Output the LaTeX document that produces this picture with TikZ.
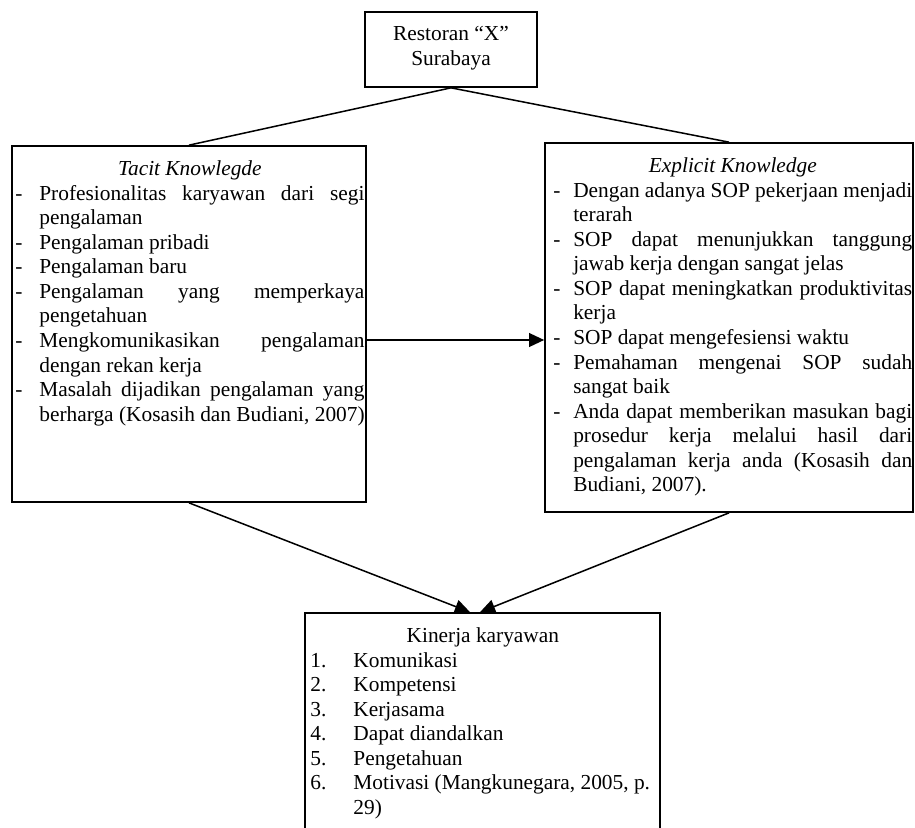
\documentclass[tikz,border=0pt]{standalone}
\usepackage{fontspec}
\setmainfont{Liberation Serif}
\usetikzlibrary{arrows.meta,fit,calc}
\newcommand{\dL}{\makebox[13.5pt][l]{-}}
\newcommand{\iL}{\hspace*{13.5pt}}
\newcommand{\jL}[1]{\makebox[182.6pt][s]{#1}}
\newcommand{\dR}{\makebox[11.2pt][l]{-}}
\newcommand{\iR}{\hspace*{11.2pt}}
\newcommand{\jR}[1]{\makebox[190.4pt][s]{#1}}
\newcommand{\nB}[1]{\makebox[24.2pt][l]{#1}}
\begin{document}
\begin{tikzpicture}[x=0.5618pt,y=-0.5618pt,
  every node/.style={font=\fontsize{12pt}{13.8pt}\selectfont},
  box/.style={draw, line width=0.95pt, inner sep=0pt},
  txt/.style={inner sep=0pt, align=left, anchor=north west},
  conn/.style={line width=0.85pt},
  arr/.style={conn, -{Triangle[length=8.5pt,width=7.8pt]}}]
\path[use as bounding box, clip] (0,0) rectangle (915,827);

\node[box, fit={(365,12) (537,87)}] (top) {};
\node[box, fit={(12,146) (366,502)}] (tacit) {};
\node[box, fit={(545,143) (913,512)}] (explicit) {};
\node[box, fit={(305,613) (660,860)}] (kinerja) {};

\node[inner sep=0pt, align=center, anchor=north] (toptext) at (451,23)
  {\strut Restoran “X”\\Surabaya};

\node[txt] (tacittext) at (15,158) {%
\makebox[196.1pt][c]{\strut\textit{Tacit Knowlegde}}\\
\dL\jL{Profesionalitas karyawan dari segi}\\
\iL pengalaman\\
\dL Pengalaman pribadi\\
\dL Pengalaman baru\\
\dL\jL{Pengalaman yang memperkaya}\\
\iL pengetahuan\\
\dL\jL{Mengkomunikasikan pengalaman}\\
\iL dengan rekan kerja\\
\dL\jL{Masalah dijadikan pengalaman yang}\\
\iL berharga (Kosasih dan Budiani, 2007)};

\node[txt] (explicittext) at (553,155) {%
\makebox[201.6pt][c]{\strut\textit{Explicit Knowledge}}\\
\dR\jR{Dengan adanya SOP pekerjaan menjadi}\\
\iR terarah\\
\dR\jR{SOP dapat menunjukkan tanggung}\\
\iR jawab kerja dengan sangat jelas\\
\dR\jR{SOP dapat meningkatkan produktivitas}\\
\iR kerja\\
\dR SOP dapat mengefesiensi waktu\\
\dR\jR{Pemahaman mengenai SOP sudah}\\
\iR sangat baik\\
\dR\jR{Anda dapat memberikan masukan bagi}\\
\iR\jR{prosedur kerja melalui hasil dari}\\
\iR\jR{pengalaman kerja anda (Kosasih dan}\\
\iR Budiani, 2007).};

\node[txt] (kinerjatext) at (310,625) {%
\makebox[193.8pt][c]{\strut Kinerja karyawan}\\
\nB{1.}Komunikasi\\
\nB{2.}Kompetensi\\
\nB{3.}Kerjasama\\
\nB{4.}Dapat diandalkan\\
\nB{5.}Pengetahuan\\
\nB{6.}Motivasi (Mangkunegara, 2005, p.\\
\hspace*{24.2pt}29)};

\draw[conn] (top.south) -- (tacit.north);
\draw[conn] (top.south) -- (explicit.north);
\coordinate (ay) at (0,340);
\draw[arr] (tacit.east |- ay) -- (explicit.west |- ay);
\coordinate (kl) at ($(kinerja.north)+(-12.5,0)$);
\coordinate (kr) at ($(kinerja.north)+(-2.5,0)$);
\draw[arr] (tacit.south) -- (kl);
\draw[arr] (explicit.south) -- (kr);
\end{tikzpicture}
\end{document}
